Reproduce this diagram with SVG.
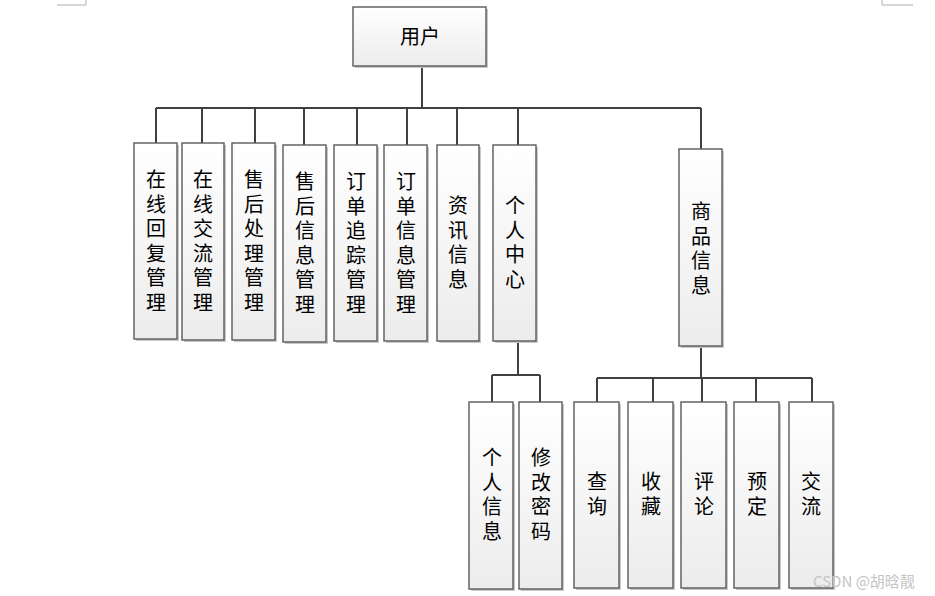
<svg xmlns="http://www.w3.org/2000/svg" width="935" height="596" viewBox="0 0 935 596">
<defs>
<linearGradient id="g" x1="0" y1="0" x2="0" y2="1">
<stop offset="0" stop-color="#ffffff"/>
<stop offset="1" stop-color="#ececec"/>
</linearGradient>
</defs>
<style>
.box{fill:url(#g);stroke:#5a5a5a;stroke-width:1.4}
.sh{fill:#c8c8c8}
.t{font-family:"Noto Sans CJK SC","Noto Sans",sans-serif;font-size:20px;fill:#000;text-anchor:middle}
.c{fill:none;stroke:#404040;stroke-width:2}
.corner{fill:none;stroke:#b0b0b0;stroke-width:1}
</style>
<rect width="935" height="596" fill="#fff"/>
<path class="corner" d="M57 5H86V0M882 0V5H913"/>
<g id="connectors">
<path class="c" d="M422 66V108M156 108H701M156 108V143M202 108V143M255 108V143M304 108V145M357 108V145M407 108V145M457 108V145M518 108V145M701 108V149"/>
<path class="c" d="M518 341V375M492 375H540M492 375V402M540 375V402"/>
<path class="c" d="M701 346V378M597 378H812M597 378V402M653 378V402M702 378V402M756 378V402M812 378V402"/>
</g>
<g id="n0"><rect class="sh" x="355" y="9" width="133" height="59"/><rect class="box" x="353" y="7" width="133" height="59"/><text class="t" x="420" y="44">用户</text></g>
<g id="n1"><rect class="sh" x="136" y="145" width="43" height="196"/><rect class="box" x="134" y="143" width="43" height="196"/><text class="t" x="156" y="187"><tspan x="156">在</tspan><tspan x="156" dy="24.5">线</tspan><tspan x="156" dy="24.5">回</tspan><tspan x="156" dy="24.5">复</tspan><tspan x="156" dy="24.5">管</tspan><tspan x="156" dy="24.5">理</tspan></text></g>
<g id="n2"><rect class="sh" x="184" y="145" width="42" height="197"/><rect class="box" x="182" y="143" width="42" height="197"/><text class="t" x="203" y="187"><tspan x="203">在</tspan><tspan x="203" dy="24.5">线</tspan><tspan x="203" dy="24.5">交</tspan><tspan x="203" dy="24.5">流</tspan><tspan x="203" dy="24.5">管</tspan><tspan x="203" dy="24.5">理</tspan></text></g>
<g id="n3"><rect class="sh" x="234" y="145" width="43" height="197"/><rect class="box" x="232" y="143" width="43" height="197"/><text class="t" x="254" y="187"><tspan x="254">售</tspan><tspan x="254" dy="24.5">后</tspan><tspan x="254" dy="24.5">处</tspan><tspan x="254" dy="24.5">理</tspan><tspan x="254" dy="24.5">管</tspan><tspan x="254" dy="24.5">理</tspan></text></g>
<g id="n4"><rect class="sh" x="285" y="147" width="43" height="197"/><rect class="box" x="283" y="145" width="43" height="197"/><text class="t" x="305" y="189"><tspan x="305">售</tspan><tspan x="305" dy="24.5">后</tspan><tspan x="305" dy="24.5">信</tspan><tspan x="305" dy="24.5">息</tspan><tspan x="305" dy="24.5">管</tspan><tspan x="305" dy="24.5">理</tspan></text></g>
<g id="n5"><rect class="sh" x="336" y="147" width="43" height="196"/><rect class="box" x="334" y="145" width="43" height="196"/><text class="t" x="356" y="189"><tspan x="356">订</tspan><tspan x="356" dy="24.5">单</tspan><tspan x="356" dy="24.5">追</tspan><tspan x="356" dy="24.5">踪</tspan><tspan x="356" dy="24.5">管</tspan><tspan x="356" dy="24.5">理</tspan></text></g>
<g id="n6"><rect class="sh" x="386" y="147" width="43" height="196"/><rect class="box" x="384" y="145" width="43" height="196"/><text class="t" x="406" y="189"><tspan x="406">订</tspan><tspan x="406" dy="24.5">单</tspan><tspan x="406" dy="24.5">信</tspan><tspan x="406" dy="24.5">息</tspan><tspan x="406" dy="24.5">管</tspan><tspan x="406" dy="24.5">理</tspan></text></g>
<g id="n7"><rect class="sh" x="439" y="147" width="42" height="196"/><rect class="box" x="437" y="145" width="42" height="196"/><text class="t" x="458" y="213"><tspan x="458">资</tspan><tspan x="458" dy="24.5">讯</tspan><tspan x="458" dy="24.5">信</tspan><tspan x="458" dy="24.5">息</tspan></text></g>
<g id="n8"><rect class="sh" x="495" y="147" width="43" height="196"/><rect class="box" x="493" y="145" width="43" height="196"/><text class="t" x="515" y="213"><tspan x="515">个</tspan><tspan x="515" dy="24.5">人</tspan><tspan x="515" dy="24.5">中</tspan><tspan x="515" dy="24.5">心</tspan></text></g>
<g id="n9"><rect class="sh" x="681" y="151" width="43" height="197"/><rect class="box" x="679" y="149" width="43" height="197"/><text class="t" x="701" y="219"><tspan x="701">商</tspan><tspan x="701" dy="24.5">品</tspan><tspan x="701" dy="24.5">信</tspan><tspan x="701" dy="24.5">息</tspan></text></g>
<g id="n10"><rect class="sh" x="471" y="404" width="44" height="187"/><rect class="box" x="469" y="402" width="44" height="187"/><text class="t" x="492" y="465"><tspan x="492">个</tspan><tspan x="492" dy="24.5">人</tspan><tspan x="492" dy="24.5">信</tspan><tspan x="492" dy="24.5">息</tspan></text></g>
<g id="n11"><rect class="sh" x="521" y="404" width="43" height="187"/><rect class="box" x="519" y="402" width="43" height="187"/><text class="t" x="541" y="465"><tspan x="541">修</tspan><tspan x="541" dy="24.5">改</tspan><tspan x="541" dy="24.5">密</tspan><tspan x="541" dy="24.5">码</tspan></text></g>
<g id="n12"><rect class="sh" x="576" y="404" width="45" height="186"/><rect class="box" x="574" y="402" width="45" height="186"/><text class="t" x="597" y="489"><tspan x="597">查</tspan><tspan x="597" dy="24.5">询</tspan></text></g>
<g id="n13"><rect class="sh" x="630" y="404" width="45" height="186"/><rect class="box" x="628" y="402" width="45" height="186"/><text class="t" x="651" y="489"><tspan x="651">收</tspan><tspan x="651" dy="24.5">藏</tspan></text></g>
<g id="n14"><rect class="sh" x="683" y="404" width="45" height="186"/><rect class="box" x="681" y="402" width="45" height="186"/><text class="t" x="704" y="489"><tspan x="704">评</tspan><tspan x="704" dy="24.5">论</tspan></text></g>
<g id="n15"><rect class="sh" x="736" y="404" width="45" height="186"/><rect class="box" x="734" y="402" width="45" height="186"/><text class="t" x="757" y="489"><tspan x="757">预</tspan><tspan x="757" dy="24.5">定</tspan></text></g>
<g id="n16"><rect class="sh" x="791" y="404" width="44" height="186"/><rect class="box" x="789" y="402" width="44" height="186"/><text class="t" x="811" y="489"><tspan x="811">交</tspan><tspan x="811" dy="24.5">流</tspan></text></g>
<text x="813" y="587" font-family="Noto Sans CJK SC, Noto Sans, sans-serif" font-size="15" fill="#c4c4c4">CSDN @胡晗靓</text>
</svg>
